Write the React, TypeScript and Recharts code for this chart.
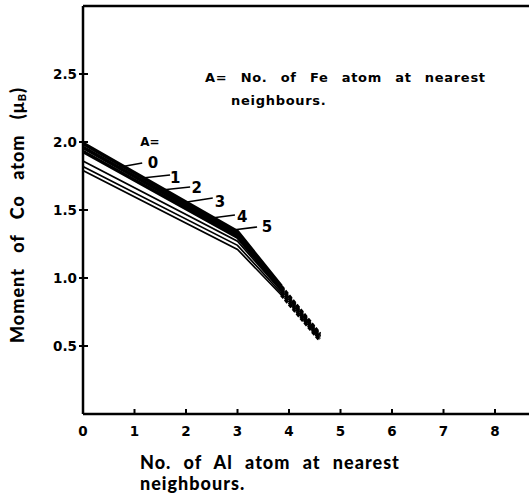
import { LineChart, Line, XAxis, YAxis, ReferenceLine, ReferenceDot } from 'recharts';

// Co moment vs. number of Al nearest neighbours, one curve per A (Fe neighbours)
const alTicks = [0, 1, 2, 3, 4, 5, 6, 7, 8];
const momentTicks = [0.5, 1.0, 1.5, 2.0, 2.5];
const feCounts = [0, 1, 2, 3, 4, 5];

// break points along the Al axis
const alStart = 0;
const alBreak = 3;
const alKnee = 3.85;
const alEnd = 4.6;

// moment (μB) at each break point, indexed by A
const momentAtStart = [1.99, 1.96, 1.93, 1.86, 1.82, 1.79];
const momentAtBreak = [1.34, 1.32, 1.3, 1.27, 1.24, 1.21];
const momentAtKnee = [0.94, 0.93, 0.92, 0.905, 0.89, 0.875];
const momentAtEnd = [0.59, 0.58, 0.57, 0.56, 0.55, 0.54];

// leader lines from the curves to the A labels: [x1, y1, x2, y2], then label spot
const leaderLines = [
  [0.72, 1.816, 1.15, 1.846],
  [1.15, 1.735, 1.69, 1.757],
  [1.53, 1.647, 2.08, 1.669],
  [2.02, 1.559, 2.52, 1.588],
  [2.5, 1.441, 2.95, 1.463],
  [2.91, 1.353, 3.38, 1.375],
];
const labelSpots = [
  [1.36, 1.846],
  [1.79, 1.735],
  [2.21, 1.662],
  [2.66, 1.559],
  [3.09, 1.449],
  [3.57, 1.375],
];

const solidSeries = feCounts.map((_, i) => [
  { al: alStart, m: momentAtStart[i] },
  { al: alBreak, m: momentAtBreak[i] },
  { al: alKnee, m: momentAtKnee[i] },
]);
const dashedSeries = feCounts.map((_, i) => [
  { al: alKnee, m: momentAtKnee[i] },
  { al: alEnd, m: momentAtEnd[i] },
]);

const tickFont = "'DejaVu Sans', sans-serif";
const titleFont = "Lato, 'DejaVu Sans', sans-serif";

const YTick = (props: any) => {
  const { x, y, payload } = props;
  return (
    <g>
      <line x1={x - 4} y1={y} x2={x + 5} y2={y} stroke="#000" strokeWidth={2} />
      <text x={x - 6} y={y} textAnchor="end" dominantBaseline="central" fontFamily={tickFont} fontWeight="bold" fontSize={13.5} fill="#000">
        {payload.value.toFixed(1)}
      </text>
    </g>
  );
};

const XTick = (props: any) => {
  const { x, y, payload } = props;
  return (
    <g>
      {payload.value > 0 && <line x1={x} y1={y} x2={x} y2={y - 5} stroke="#000" strokeWidth={2} />}
      <text x={x} y={y + 17} textAnchor="middle" dominantBaseline="central" fontFamily={tickFont} fontWeight="bold" fontSize={13.5} fill="#000">
        {payload.value}
      </text>
    </g>
  );
};

const XTitle = (props: any) => {
  const { viewBox } = props;
  const x = viewBox.x + 57;
  return (
    <text fontFamily={titleFont} fontWeight={900} fontSize={18} fill="#000" letterSpacing={1} wordSpacing={7}>
      <tspan x={x} y={viewBox.y + 55}>No. of Al atom at nearest</tspan>
      <tspan x={x} y={viewBox.y + 76}>neighbours.</tspan>
    </text>
  );
};

const YTitle = () => (
  <text
    transform="translate(17, 215) rotate(-90)"
    textAnchor="middle"
    dominantBaseline="central"
    fontFamily={titleFont}
    fontWeight={900}
    fontSize={18}
    fill="#000"
    letterSpacing={1}
    wordSpacing={10}
  >
    Moment of Co atom (μ<tspan fontSize={11} dy={4}>B</tspan>
    <tspan dy={-4}>)</tspan>
  </text>
);

const NoteLabel = (props: any) => {
  const { viewBox } = props;
  const x = viewBox.x;
  const y = viewBox.y;
  return (
    <text fontFamily={tickFont} fontWeight="bold" fontSize={13} fill="#000" letterSpacing={0.7} wordSpacing={8}>
      <tspan x={x} y={y + 4}>A= No. of Fe atom at nearest</tspan>
      <tspan x={x + 26} y={y + 27}>neighbours.</tspan>
    </text>
  );
};

export default function App() {
  return (
    <div style={{ position: 'absolute', left: 0, top: 0, background: '#fff' }}>
      <LineChart width={529} height={500} margin={{ top: 6, right: 0, bottom: 0, left: 0 }}>
        <XAxis
          type="number"
          dataKey="al"
          domain={[0, 8.66]}
          ticks={alTicks}
          allowDataOverflow
          height={86}
          tickSize={0}
          tickMargin={0}
          tickLine={false}
          tick={<XTick />}
          axisLine={{ stroke: '#000', strokeWidth: 2.5 }}
          label={<XTitle />}
        />
        <YAxis
          type="number"
          dataKey="m"
          domain={[0, 3]}
          ticks={momentTicks}
          allowDataOverflow
          width={83}
          tickSize={0}
          tickMargin={0}
          tickLine={false}
          tick={<YTick />}
          axisLine={{ stroke: '#000', strokeWidth: 2.5 }}
          label={<YTitle />}
        />
        <ReferenceLine y={3} stroke="#000" strokeWidth={2.5} />
        {feCounts.map((a, i) => (
          <Line
            key={`solid-${a}`}
            data={solidSeries[i]}
            dataKey="m"
            stroke="#000"
            strokeWidth={i < 3 ? 3.6 : 1.7}
            dot={false}
            isAnimationActive={false}
          />
        ))}
        {feCounts.map((a, i) => (
          <Line
            key={`dash-${a}`}
            data={dashedSeries[i]}
            dataKey="m"
            stroke="#000"
            strokeWidth={3.2}
            strokeDasharray="4 2"
            dot={false}
            isAnimationActive={false}
          />
        ))}
        {leaderLines.map((s, i) => (
          <ReferenceLine
            key={`leader-${i}`}
            segment={[{ x: s[0], y: s[1] }, { x: s[2], y: s[3] }]}
            stroke="#000"
            strokeWidth={1.6}
          />
        ))}
        {labelSpots.map((p, i) => (
          <ReferenceDot
            key={`lbl-${i}`}
            x={p[0]}
            y={p[1]}
            r={0}
            fill="none"
            stroke="none"
            label={{ value: String(feCounts[i]), position: 'center', fontFamily: tickFont, fontWeight: 'bold', fontSize: 15, fill: '#000' }}
          />
        ))}
        <ReferenceDot
          x={1.3}
          y={2.0}
          r={0}
          fill="none"
          stroke="none"
          label={{ value: 'A=', position: 'center', fontFamily: tickFont, fontWeight: 'bold', fontSize: 12, fill: '#000' }}
        />
        <ReferenceDot x={2.37} y={2.47} r={0} fill="none" stroke="none" label={<NoteLabel />} />
      </LineChart>
    </div>
  );
}
